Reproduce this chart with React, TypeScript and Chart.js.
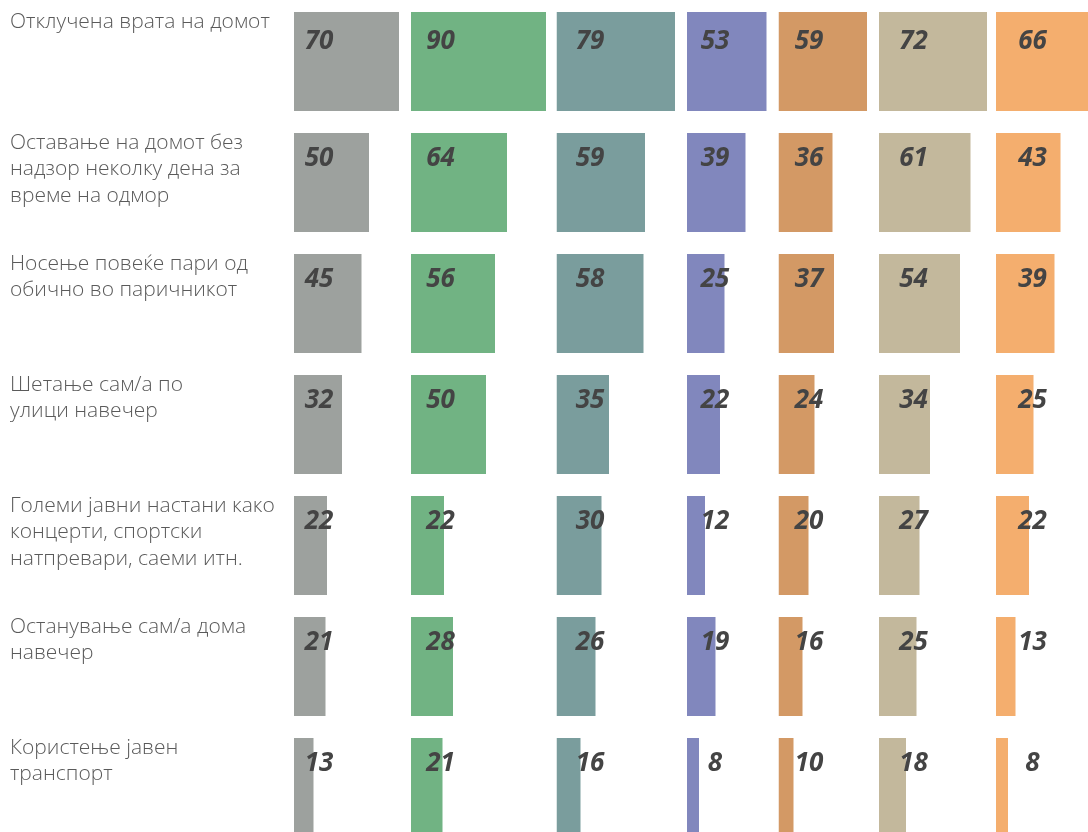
import React, { useEffect, useRef } from "react";
import { Chart, registerables } from "chart.js";

Chart.register(...registerables);

// ---------- data ----------
const categories: string[][] = [
  ["Отклучена врата на домот"],
  ["Оставање на домот без", "надзор неколку дена за", "време на одмор"],
  ["Носење повеќе пари од", "обично во паричникот"],
  ["Шетање сам/а по", "улици навечер"],
  ["Големи јавни настани како", "концерти, спортски", "натпревари, саеми итн."],
  ["Останување сам/а дома", "навечер"],
  ["Користење јавен", "транспорт"],
];

const series1 = [70, 50, 45, 32, 22, 21, 13];
const series2 = [90, 64, 56, 50, 22, 28, 21];
const series3 = [79, 59, 58, 35, 30, 26, 16];
const series4 = [53, 39, 25, 22, 12, 19, 8];
const series5 = [59, 36, 37, 24, 20, 16, 10];
const series6 = [72, 61, 54, 34, 27, 25, 18];
const series7 = [66, 43, 39, 25, 22, 13, 8];

// per-column axis ranges (each facet has its own scale extent)
const columnMax = [78, 97, 87, 61, 67, 78, 76];

// ---------- style ----------
const colors = ["#9da19e", "#71b383", "#7a9d9d", "#8187bd", "#d39965", "#c3b89c", "#f4ae6e"];
const labelDx = [25, 29.5, 33.5, 28, 30.5, 34.5, 36.5];
const LINES = 4;

const padLabel = (lines: string[]) => {
  const out = [...lines];
  while (out.length < LINES) out.push("");
  return out;
};

const valueLabelPlugin = {
  id: "valueLabels",
  afterDatasetsDraw(chart: any) {
    const ctx = chart.ctx;
    ctx.save();
    ctx.font = "italic bold 26px 'Open Sans'";
    ctx.fillStyle = "#444444";
    ctx.textAlign = "center";
    ctx.textBaseline = "middle";
    chart.data.datasets.forEach((ds: any, i: number) => {
      const meta = chart.getDatasetMeta(i);
      meta.data.forEach((el: any, j: number) => {
        const top = el.y - el.height / 2;
        const y = Math.max(top + 26, 41.5);
        ctx.fillText(String(ds.data[j]), el.base + labelDx[i], y);
      });
    });
    ctx.restore();
  },
};

export default function App() {
  const ref = useRef<HTMLCanvasElement | null>(null);

  useEffect(() => {
    if (!ref.current) return;
    const all = [series1, series2, series3, series4, series5, series6, series7];
    const scales: any = {
      y: {
        type: "category",
        position: "left",
        grid: { display: false },
        border: { display: false },
        ticks: {
          autoSkip: false,
          crossAlign: "far",
          padding: 0,
          color: "#5a5a5a",
          font: { family: "'Open Sans'", size: 21, weight: "300", lineHeight: 1.26 },
        },
        afterFit: (scale: any) => {
          scale.width = 284;
          scale.paddingTop = 0;
          scale.paddingBottom = 0;
        },
      },
    };
    all.forEach((_, i) => {
      scales["x" + (i + 1)] = {
        type: "linear",
        position: "bottom",
        stack: "cols",
        stackWeight: columnMax[i],
        min: 0,
        max: columnMax[i],
        display: false,
        grid: { display: false },
      };
    });

    const chart = new Chart(ref.current, {
      type: "bar",
      data: {
        labels: categories.map(padLabel),
        datasets: all.map((d, i) => ({
          label: "s" + (i + 1),
          data: d,
          xAxisID: "x" + (i + 1),
          yAxisID: "y",
          backgroundColor: colors[i],
          borderWidth: 0,
          grouped: false,
          barPercentage: 0.818,
          categoryPercentage: 1,
        })),
      },
      options: {
        indexAxis: "y",
        animation: false,
        responsive: true,
        maintainAspectRatio: false,
        layout: { padding: { left: 10, right: 0, top: 1, bottom: 0 } },
        plugins: {
          legend: { display: false },
          tooltip: { enabled: false },
        },
        scales,
      },
      plugins: [valueLabelPlugin],
    } as any);
    return () => chart.destroy();
  }, []);

  return (
    <div
      style={{
        position: "fixed",
        left: 0,
        top: 0,
        width: 1088,
        height: 832,
        overflow: "hidden",
        background: "#ffffff",
      }}
    >
      <div style={{ position: "relative", width: 1110, height: 848 }}>
        <canvas ref={ref} />
      </div>
    </div>
  );
}
